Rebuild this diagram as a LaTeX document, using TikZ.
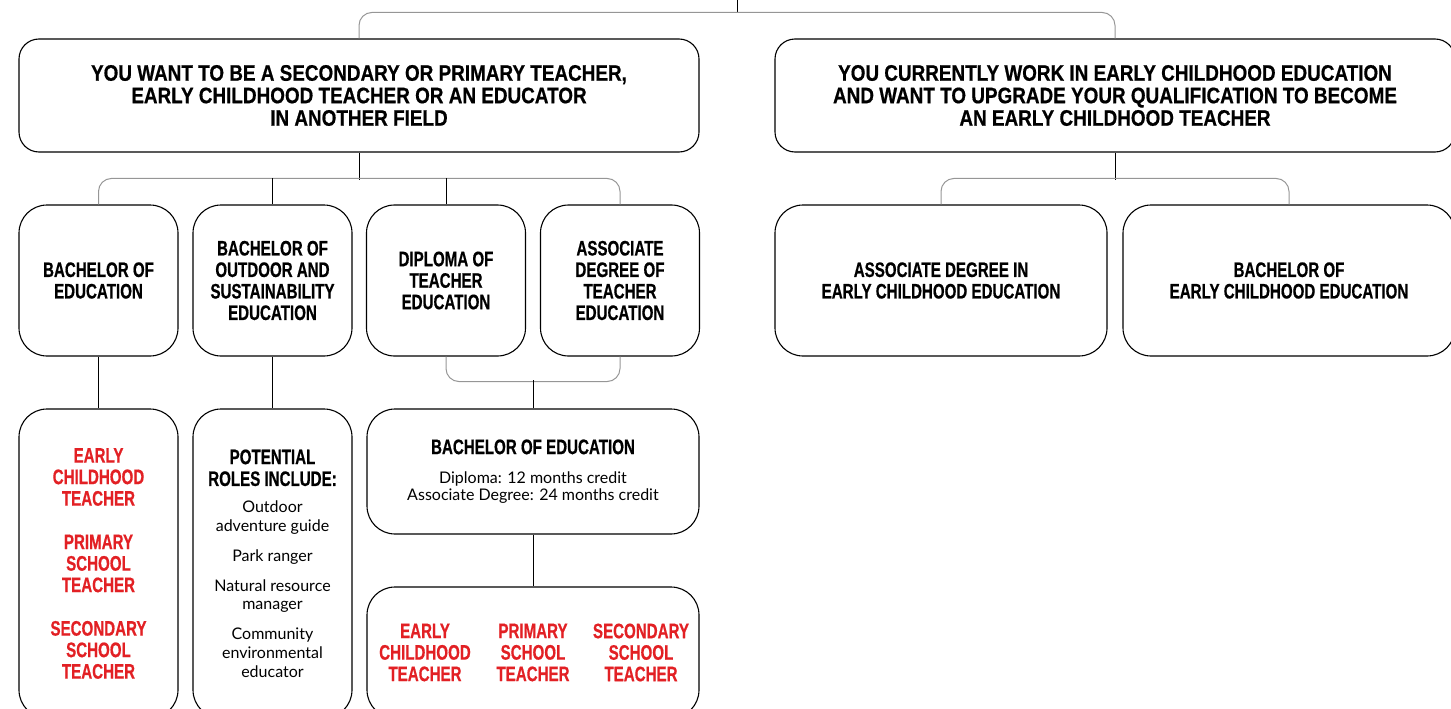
\documentclass[tikz,border=0pt]{standalone}
\usepackage{fontspec}
\setmainfont{Lato}
\newfontfamily\headfont{Liberation Sans}[FakeStretch=0.72,FakeBold=0.6]
\newfontfamily\bigheadfont{Liberation Sans}[FakeStretch=0.84,FakeBold=0.6]
\definecolor{ecred}{RGB}{226,32,36}
\definecolor{bracketgray}{RGB}{150,150,150}
\newcommand{\hd}{\headfont\bfseries\fontsize{21}{21.5}\selectfont}
\newcommand{\bighd}{\bigheadfont\bfseries\fontsize{22.5}{22.5}\selectfont}
\newcommand{\txt}{\fontsize{16}{18.8}\selectfont}

\begin{document}
\begin{tikzpicture}[x=1pt,y=-1pt,
  box/.style={shape=rectangle,draw,line width=1.1pt,rounded corners=28pt,inner sep=0pt,align=center,font=\hd},
  topbox/.style={box,rounded corners=20pt,minimum width=680pt,minimum height=113pt,font=\bighd},
  degbox/.style={box,minimum width=159pt,minimum height=151pt},
  widebox/.style={box,minimum width=332pt,minimum height=151pt},
  link/.style={line width=1pt},
  bracket/.style={line width=1pt,bracketgray,rounded corners=13pt}]
\clip (0,0) rectangle (1451,709);
\node(want)[topbox] at (359,95.5){YOU WANT TO BE A SECONDARY OR PRIMARY TEACHER,\\ EARLY CHILDHOOD TEACHER OR AN EDUCATOR\\ IN ANOTHER FIELD};
\node(upgrade)[topbox] at (1115,95.5){YOU CURRENTLY WORK IN EARLY CHILDHOOD EDUCATION\\ AND WANT TO UPGRADE YOUR QUALIFICATION TO BECOME\\ AN EARLY CHILDHOOD TEACHER};
\node(bedu)[degbox] at (98.5,280.5){BACHELOR OF\\ EDUCATION};
\node(outdoor)[degbox] at (272.5,280.5){BACHELOR OF\\ OUTDOOR AND\\ SUSTAINABILITY\\ EDUCATION};
\node(diploma)[degbox] at (446,280.5){DIPLOMA OF\\ TEACHER\\ EDUCATION};
\node(assoc)[degbox] at (620,280.5){ASSOCIATE\\ DEGREE OF\\ TEACHER\\ EDUCATION};
\node(ecassoc)[widebox] at (941,280.5){ASSOCIATE DEGREE IN\\ EARLY CHILDHOOD EDUCATION};
\node(ecbach)[widebox] at (1289,280.5){BACHELOR OF\\ EARLY CHILDHOOD EDUCATION};
\node(ecroles)[degbox,minimum height=309pt,text=ecred] at (98.5,563.5){EARLY\\ CHILDHOOD\\ TEACHER\\[22pt] PRIMARY\\ SCHOOL\\ TEACHER\\[22pt] SECONDARY\\ SCHOOL\\ TEACHER};
\node(roles)[degbox,minimum height=309pt,font=\txt] at (272.5,563.5){{\hd POTENTIAL}\\[3pt] {\hd ROLES INCLUDE:}\\[8pt] Outdoor\\ adventure guide\\[11pt] Park ranger\\[11pt] Natural resource\\ manager\\[11pt] Community\\ environmental\\ educator};
\node(bedtwo)[widebox,minimum height=125pt,font=\fontsize{16}{17.5}\selectfont] at (533,471.5){{\hd BACHELOR OF EDUCATION}\\[11.5pt] Diploma: 12 months credit\\ Associate Degree: 24 months credit};
\node(teachers)[widebox,minimum height=131pt,text=ecred] at (533,652.5){\parbox[c]{100pt}{\centering\hd EARLY\\ CHILDHOOD\\ TEACHER}\hspace{8pt}\parbox[c]{100pt}{\centering\hd PRIMARY\\ SCHOOL\\ TEACHER}\hspace{8pt}\parbox[c]{100pt}{\centering\hd SECONDARY\\ SCHOOL\\ TEACHER}};
\coordinate(top) at (737.5,0);
\draw[link] (top)--++(0,13);
\draw[bracket] (want.north)--++(0,-26) -| (upgrade.north);
\draw[link] (want.south)--++(0,27);
\draw[bracket] (bedu.north)--++(0,-26) -| (assoc.north);
\draw[link] (outdoor.north)--++(0,-26);
\draw[link] (diploma.north)--++(0,-26);
\draw[link] (upgrade.south)--++(0,27);
\draw[bracket] (ecassoc.north)--++(0,-26) -| (ecbach.north);
\draw[bracket] (diploma.south)--++(0,25) -| (assoc.south);
\draw[link] (bedtwo.north)--++(0,-28);
\draw[link] (bedu)--(ecroles);
\draw[link] (outdoor)--(roles);
\draw[link] (bedtwo)--(teachers);
\end{tikzpicture}
\end{document}
